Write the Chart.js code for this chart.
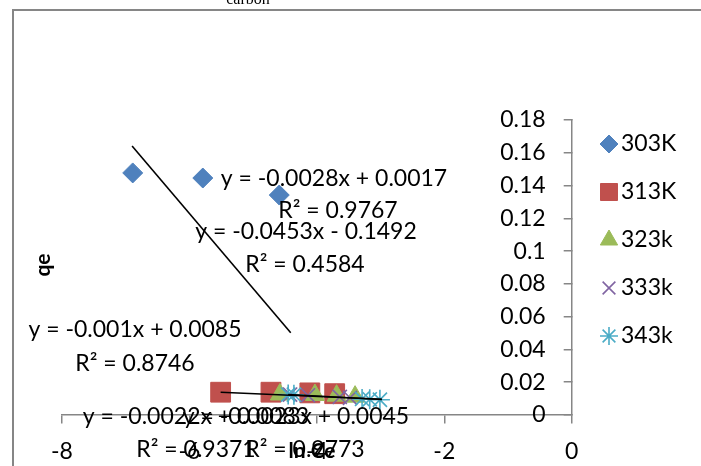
<!DOCTYPE html>
<html><head><meta charset="utf-8">
<script src="https://cdn.jsdelivr.net/npm/chart.js@4.4.0/dist/chart.umd.min.js"></script>
<style>html,body{margin:0;padding:0;background:#fff;}#wrap{width:701px;height:466px;position:relative;overflow:hidden;}</style>
</head><body><div id="wrap"><canvas id="c" width="701" height="466"></canvas></div>
<script>
// ---- data ----
const seriesNames = ['303K', '313K', '323k', '333k', '343k'];
const x303 = [-6.89, -5.79, -4.59];
const y303 = [0.1477, 0.1446, 0.1342];
const x313 = [-5.51, -4.72, -4.11, -3.72];
const y313 = [0.0139, 0.0139, 0.0135, 0.0130];
const x323 = [-4.58, -4.03, -3.69, -3.40];
const y323 = [0.0125, 0.0122, 0.0118, 0.0112];
const x333 = [-4.42, -4.14, -3.64, -3.48];
const y333 = [0.0125, 0.0120, 0.0110, 0.0105];
const x343 = [-4.45, -4.36, -3.29, -3.17, -3.01];
const y343 = [0.0125, 0.0124, 0.0098, 0.0096, 0.0093];
// trendline end points
const trendA_x = [-6.90, -4.41];
const trendA_y = [0.1641, 0.0502];
const trendB_x = [-5.51, -2.98];
const trendB_y = [0.0139, 0.0096];
const trendC_x = [-4.45, -2.98];
const trendC_y = [0.0125, 0.0095];
// equation labels
const eqLines = [
  ['y = -0.0028x + 0.0017', 'R² = 0.9767'],
  ['y = -0.0453x - 0.1492', 'R² = 0.4584'],
  ['y = -0.001x + 0.0085', 'R² = 0.8746'],
  ['y = -0.0022x + 0.0083', 'R² = 0.9371'],
  ['y = -0.0023x + 0.0045', 'R² = 0.9773']
];
const chartTitle = 'carbon';
const xTitle = 'ln Ce';
const yTitle = 'qe';
const xMin = -8, xMax = 0, xStep = 2;
const yMin = 0, yMax = 0.18, yStep = 0.02;

// ---- styles ----
const colors = ['#4F81BD', '#C0504D', '#9BBB59', '#8064A2', '#4BACC6'];
const styles = ['rectRot', 'rect', 'triangle', 'crossRot', 'star'];
const radii = [10, 14, 11, 10, 10];
const legendRadii = [9, 12, 10, 9, 9];
const FONT = 'Lato';
const eqPos = [
  [[334, 179], [338, 211]],
  [[306, 232], [305, 265]],
  [[135, 330], [135, 364]],
  [[196, 417], [196, 450]],
  [[296, 417], [305, 450]]
];

function pts(xs, ys) { return xs.map((x, i) => ({x: x, y: ys[i]})); }
const series = [pts(x303, y303), pts(x313, y313), pts(x323, y323), pts(x333, y333), pts(x343, y343)];

const datasets = [];
[[trendA_x, trendA_y], [trendB_x, trendB_y], [trendC_x, trendC_y]].forEach(t => {
  datasets.push({data: pts(t[0], t[1]), showLine: true, pointRadius: 0, borderColor: '#000', borderWidth: 1.6, order: 0, fill: false});
});
series.forEach((d, i) => {
  const line = (styles[i] === 'crossRot' || styles[i] === 'star');
  datasets.push({
    label: seriesNames[i], data: d, showLine: false,
    pointStyle: styles[i], pointRadius: radii[i], pointHoverRadius: radii[i],
    backgroundColor: colors[i], borderColor: colors[i], borderWidth: line ? 1.6 : 1,
    order: 5 - i
  });
});

const deco = {
  id: 'deco',
  afterDraw(chart) {
    const ctx = chart.ctx;
    ctx.save();
    // outer frame
    ctx.strokeStyle = '#868686'; ctx.lineWidth = 2;
    ctx.strokeRect(13, 10, 740, 520);
    // title
    ctx.fillStyle = '#000';
    ctx.font = '16px "Liberation Serif"';
    ctx.textAlign = 'center'; ctx.textBaseline = 'alphabetic';
    ctx.fillText(chartTitle, 248, 4);
    // equations
    ctx.font = '23px ' + FONT;
    ctx.textBaseline = 'middle';
    eqLines.forEach((lines, i) => {
      lines.forEach((t, j) => ctx.fillText(t, eqPos[i][j][0], eqPos[i][j][1]));
    });
    // axis titles
    ctx.font = 'bold 21px ' + FONT;
    ctx.fillText(xTitle, 312, 451);
    ctx.save();
    ctx.translate(43, 265); ctx.rotate(-Math.PI / 2);
    ctx.fillText(yTitle, 0, 0);
    ctx.restore();
    // legend
    ctx.font = '23px ' + FONT;
    ctx.textAlign = 'left';
    seriesNames.forEach((n, i) => {
      const y = 144 + i * 48;
      ctx.fillStyle = colors[i]; ctx.strokeStyle = colors[i];
      ctx.lineWidth = (styles[i] === 'crossRot' || styles[i] === 'star') ? 1.6 : 1;
      Chart.helpers.drawPoint(ctx, {pointStyle: styles[i], radius: legendRadii[i], rotation: 0, borderWidth: ctx.lineWidth}, 609, y);
      ctx.fillStyle = '#000';
      ctx.fillText(n, 621, y);
    });
    ctx.restore();
  }
};

new Chart(document.getElementById('c'), {
  type: 'scatter',
  data: {datasets},
  options: {
    responsive: false, animation: false, devicePixelRatio: 1,
    layout: {padding: {left: 62, right: 129.3, top: 120, bottom: 51}},
    plugins: {legend: {display: false}, tooltip: {enabled: false}, title: {display: false}},
    scales: {
      x: {
        type: 'linear', min: xMin, max: xMax, position: {y: 0},
        afterFit(s) { s.height = 0; },
        ticks: {stepSize: xStep, color: '#000', font: {family: FONT, size: 23}, padding: 15},
        grid: {display: true, drawOnChartArea: false, drawTicks: true, tickLength: 8, color: '#868686', lineWidth: 1.5},
        border: {display: true, color: '#868686', width: 1.5}
      },
      y: {
        type: 'linear', min: yMin, max: yMax, position: 'right',
        afterFit(s) { s.width = 0; },
        ticks: {stepSize: yStep, color: '#000', font: {family: FONT, size: 23}, padding: -26, mirror: true,
          callback: v => String(parseFloat(Number(v).toFixed(2)))},
        grid: {display: true, drawOnChartArea: false, drawTicks: true, tickLength: -8, color: '#868686', lineWidth: 1.5},
        border: {display: true, color: '#868686', width: 1.5}
      }
    }
  },
  plugins: [deco]
});
</script>
</body></html>
